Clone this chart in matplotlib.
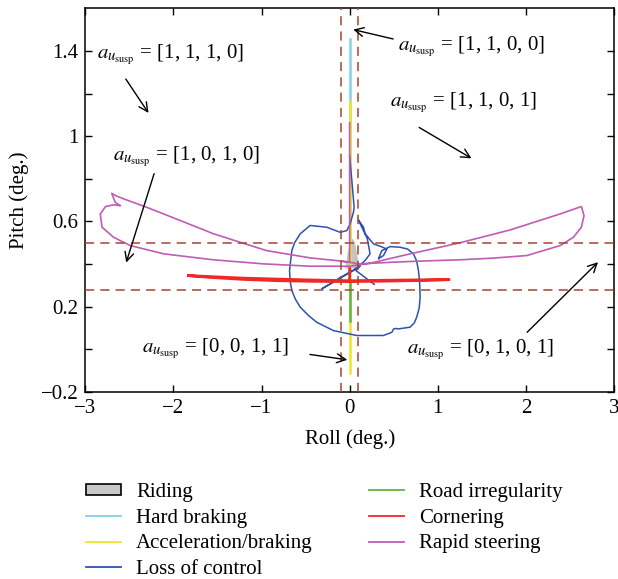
import numpy as np
import matplotlib
matplotlib.use("Agg")
import matplotlib.pyplot as plt
from matplotlib.patches import Patch
from matplotlib.lines import Line2D

plt.rcParams['font.family'] = ['Liberation Serif', 'DejaVu Serif']
plt.rcParams['mathtext.fontset'] = 'stix'

nan = np.nan

# ---------------- data (deg.) ----------------
riding_x = [-0.05, -0.03, -0.02, 0.0, 0.02, 0.04, 0.06, 0.08, 0.095, 0.09, -0.05]
riding_y = [0.38, 0.43, 0.46, 0.49, 0.51, 0.52, 0.50, 0.46, 0.42, 0.38, 0.38]

hard_braking_x = [0.0, 0.0]
hard_braking_y = [0.40, 1.456]

accel_x = [0.0, 0.0]
accel_y = [-0.112, 1.167]

loss_x = [0.0, 0.012, 0.025, 0.04, 0.051, 0.043, 0.006, -0.032, -0.108, -0.259, -0.448,
          -0.561, -0.625, -0.656, -0.682, -0.675, -0.656, -0.615, -0.561, -0.47, -0.373,
          -0.184, 0.08, 0.383, 0.48,
          0.497, 0.52, 0.554, 0.686, 0.735, 0.761, 0.79, 0.80, 0.795, 0.781, 0.76, 0.724,
          0.66, 0.573, 0.459, 0.365,
          0.327, 0.345, 0.384, 0.422, 0.37, 0.27, 0.176, 0.157, 0.10, 0.13, 0.20,
          0.232, 0.176, 0.043, -0.315, -0.05, 0.12, 0.07, 0.28]
loss_y = [0.909, 0.85, 0.792, 0.72, 0.666, 0.643, 0.589, 0.557, 0.549, 0.573, 0.581,
          0.542, 0.50, 0.463, 0.370, 0.32, 0.276, 0.235, 0.198, 0.16, 0.127,
          0.088, 0.065, 0.065, 0.08,
          0.095, 0.098, 0.096, 0.104, 0.125, 0.151, 0.195, 0.244, 0.31, 0.370, 0.415, 0.448,
          0.47, 0.479, 0.482, 0.463,
          0.424, 0.43, 0.44, 0.47, 0.48, 0.495, 0.542, 0.573, 0.607, 0.58, 0.52,
          0.448, 0.417, 0.37, 0.284, 0.35, 0.39, 0.37, 0.305]

road_x = [0.0, 0.0]
road_y = [0.135, 0.31]

corner_x = [-1.83, -1.6, -1.2, -0.8, -0.4, 0.0, 0.4, 0.8, 1.13, 0.8, 0.4, 0.0, -0.5,
            -1.2, -1.83, nan, 0.0, 0.0]
corner_y = [0.346, 0.338, 0.328, 0.322, 0.319, 0.318, 0.32, 0.323, 0.327, 0.326, 0.324,
            0.322, 0.326, 0.334, 0.346, nan, 0.318, 0.379]

rapid_x = [0.0, 0.0, -0.448, -0.94, -1.24, -1.544, -1.92, -2.30, -2.565, -2.65, -2.70,
           -2.68, -2.66, -2.62, -2.60, -2.68, -2.77, -2.83, -2.81, -2.68, -2.49, -2.11,
           -1.544, -0.977, -0.448, 0.0, 0.232, 0.686, 1.253, 1.82, 2.387, 2.63, 2.66,
           2.63, 2.54, 2.39, 2.01, 1.63, 1.25, 0.80, 0.497, 0.12, -0.09]
rapid_y = [1.063, 0.41, 0.429, 0.463, 0.502, 0.542, 0.604, 0.666, 0.706, 0.72, 0.732,
           0.71, 0.69, 0.678, 0.674, 0.678, 0.67, 0.635, 0.573, 0.526, 0.487, 0.448,
           0.42, 0.401, 0.39, 0.39, 0.404, 0.448, 0.50, 0.56, 0.635, 0.67, 0.627,
           0.573, 0.526, 0.487, 0.44, 0.428, 0.42, 0.414, 0.409, 0.401, 0.413]

thresh_roll = [-0.1, 0.1]
thresh_pitch = [0.28, 0.5]

labels = ["Riding", "Hard braking", "Acceleration/braking", "Loss of control",
          "Road irregularity", "Cornering", "Rapid steering"]

annot_texts = ["[1, 1, 1, 0]", "[1, 1, 0, 0]", "[1, 1, 0, 1]",
               "[1, 0, 1, 0]", "[0, 0, 1, 1]", "[0, 1, 0, 1]"]

# ---------------- styles / layout ----------------
c_ride = '#c4c4c4'
c_hard = '#82d2e2'
c_acc = '#ece62a'
c_loss = '#2f52b0'
c_road = '#62b348'
c_corn = '#f02828'
c_rapid = '#c05cb4'
c_dash = '#a8442e'

fig = plt.figure(figsize=(6.18, 5.79), dpi=100)
ax = fig.add_axes([0.138, 0.323, 0.8555, 0.6627])

ax.fill(riding_x, riding_y, color=c_ride, lw=0, zorder=1)
ax.plot(hard_braking_x, hard_braking_y, color=c_hard, lw=1.8, zorder=2)
ax.plot(accel_x, accel_y, color=c_acc, lw=1.8, zorder=2)
ax.plot(loss_x, loss_y, color=c_loss, lw=1.1, zorder=3)
ax.plot(road_x, road_y, color=c_road, lw=1.8, zorder=3)
ax.plot(corner_x, corner_y, color=c_corn, lw=2.0, zorder=4)
ax.plot(rapid_x, rapid_y, color=c_rapid, lw=1.2, zorder=5)

for xv in thresh_roll:
    ax.axvline(xv, color=c_dash, lw=1.1, ls=(0, (6, 4)), zorder=6)
for yv in thresh_pitch:
    ax.axhline(yv, color=c_dash, lw=1.1, ls=(0, (6, 4)), zorder=6)

ax.set_xlim(-3, 3)
ax.set_ylim(-0.2, 1.6)
ax.set_xticks([-3, -2, -1, 0, 1, 2, 3])
ax.set_xticklabels(['\u22123', '\u22122', '\u22121', '0', '1', '2', '3'])
yt = [-0.2, 0.0, 0.2, 0.4, 0.6, 0.8, 1.0, 1.2, 1.4]
ax.set_yticks(yt)
ax.set_yticklabels(['\u22120.2', '', '0.2', '', '0.6', '', '1', '', '1.4'])
ax.tick_params(direction='in', top=True, right=True, length=5, width=1,
               labelsize=15, pad=5, colors='black')
for s in ax.spines.values():
    s.set_linewidth(1.1)
ax.set_xlabel('Roll (deg.)', fontsize=15, labelpad=8)
ax.set_ylabel('Pitch (deg.)', fontsize=15, labelpad=8)

# annotations: text left/baseline positions and arrows (start -> end)
text_pos = [(-2.865, 1.365), (0.548, 1.401), (0.457, 1.14),
            (-2.68, 0.885), (-2.358, -0.013), (0.646, -0.021)]
arrows = [((-2.54, 1.268), (-2.283, 1.109)),
          ((0.494, 1.456), (0.041, 1.50)),
          ((0.789, 1.041), (1.383, 0.896)),
          ((-2.219, 0.824), (-2.536, 0.407)),
          ((-0.45, -0.024), (-0.027, -0.049)),
          ((2.014, 0.08), (2.819, 0.409))]
for t, (tx, ty) in zip(annot_texts, text_pos):
    ax.text(tx, ty, r'$a_{u_{\mathrm{susp}}}$ = ' + t, fontsize=15,
            ha='left', va='baseline', zorder=8)
for (s, e) in arrows:
    ax.annotate('', xy=e, xytext=s,
                arrowprops=dict(arrowstyle='->', color='black', lw=1.0,
                                mutation_scale=16, shrinkA=0, shrinkB=0), zorder=8)

handles = [Patch(facecolor='#c8c8c8', edgecolor='black', lw=1.2),
           Line2D([], [], color=c_hard, lw=1.3),
           Line2D([], [], color=c_acc, lw=1.3),
           Line2D([], [], color=c_loss, lw=1.3),
           Line2D([], [], color=c_road, lw=1.3),
           Line2D([], [], color=c_corn, lw=1.3),
           Line2D([], [], color=c_rapid, lw=1.3)]
fig.legend(handles, labels, loc='upper left', bbox_to_anchor=(0.139, 0.166),
           ncol=2, frameon=False, fontsize=15, handlelength=1.7, handleheight=0.5,
           handletextpad=0.7, columnspacing=2.7, labelspacing=0.32,
           borderaxespad=0, borderpad=0)

fig.savefig('out.png', dpi=100)
